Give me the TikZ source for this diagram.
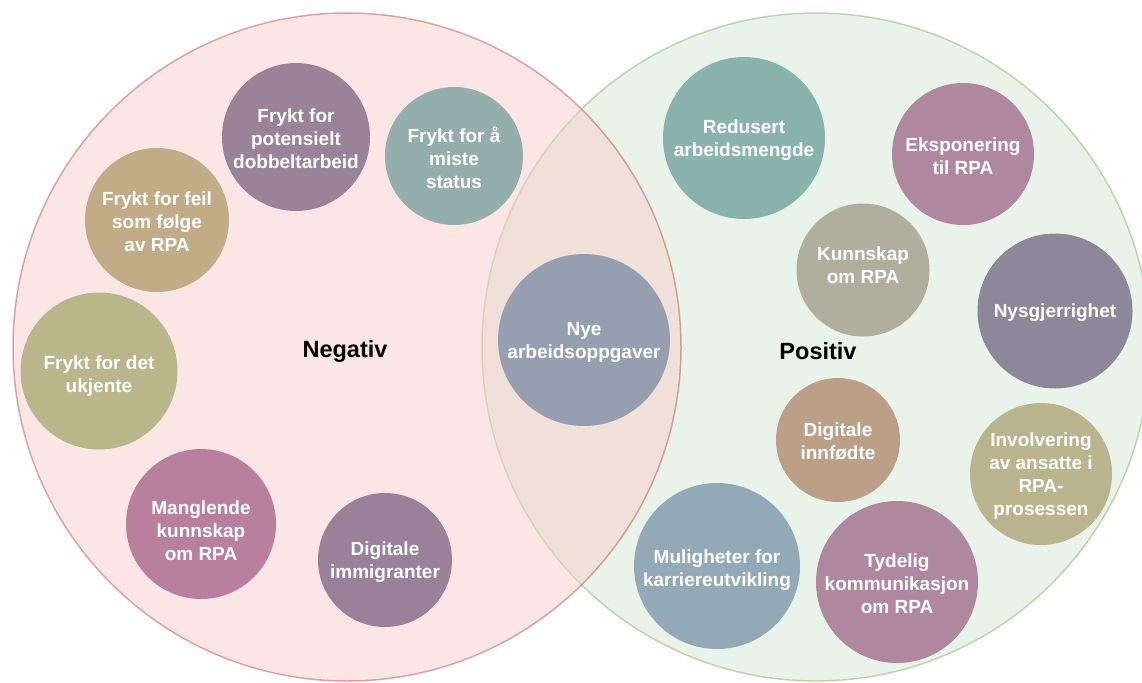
\documentclass[tikz,border=0pt]{standalone}
\usepackage{fontspec}
\setmainfont{Liberation Sans}
\definecolor{negfill}{HTML}{F8CECC}
\definecolor{negline}{HTML}{B85450}
\definecolor{posfill}{HTML}{D5E8D4}
\definecolor{posline}{HTML}{82B366}
\definecolor{cA}{HTML}{9A8299}
\definecolor{cB}{HTML}{94AEAB}
\definecolor{cC}{HTML}{C2AC88}
\definecolor{cD}{HTML}{B9B68C}
\definecolor{cE}{HTML}{B8809E}
\definecolor{cF}{HTML}{988199}
\definecolor{cG}{HTML}{969FAF}
\definecolor{cH}{HTML}{8BB3AE}
\definecolor{cI}{HTML}{AF88A0}
\definecolor{cJ}{HTML}{B0AE9F}
\definecolor{cK}{HTML}{8C8799}
\definecolor{cL}{HTML}{BBA087}
\definecolor{cM}{HTML}{B9B48E}
\definecolor{cN}{HTML}{93A9B7}
\definecolor{cO}{HTML}{AF88A0}
\tikzset{
  bigset/.style={circle, inner sep=0pt, minimum size=668pt, line width=1.5pt, opacity=0.5},
  bub/.style={circle, inner sep=0pt, draw=none},
  txt/.style={text=white, align=center, font=\fontsize{19}{23}\selectfont\bfseries, inner sep=0pt, yshift=-2pt},
  head/.style={text=black, font=\fontsize{23.5}{28}\selectfont\bfseries, inner sep=0pt}
}
\begin{document}
\begin{tikzpicture}[x=1pt, y=-1pt]
\useasboundingbox (0,0) rectangle (1142,682);
\clip (0,0) rectangle (1142,682);
% big sets
\node[bigset, fill=posfill, draw=posline] (pos) at (816,347) {};
\node[bigset, fill=negfill, draw=negline] (neg) at (347,347) {};
\node[head] (negl) at (345,351) {Negativ};
\node[head] (posl) at (818,351) {Positiv};
% negative bubbles
\node[bub, fill=cA, minimum size=148pt] (a) at (296,137) {};
\node[txt] (at) at (a) {Frykt for\\potensielt\\dobbeltarbeid};
\node[bub, fill=cB, minimum size=138pt] (b) at (454,156) {};
\node[txt] (bt) at (b) {Frykt for å\\miste\\status};
\node[bub, fill=cC, minimum size=144pt] (c) at (157,220) {};
\node[txt] (ct) at (c) {Frykt for feil\\som følge\\av RPA};
\node[bub, fill=cD, minimum size=157pt] (d) at (99,371) {};
\node[txt] (dt) at ([yshift=-3pt]d.center) {Frykt for det\\ukjente};
\node[bub, fill=cE, minimum size=150pt] (e) at (201,524) {};
\node[txt] (et) at ([yshift=-5pt]e.center) {Manglende\\kunnskap\\om RPA};
\node[bub, fill=cF, minimum size=134pt] (f) at (385,560) {};
\node[txt] (ft) at (f) {Digitale\\immigranter};
% intersection
\node[bub, fill=cG, minimum size=172pt] (g) at (584,340) {};
\node[txt] (gt) at (g) {Nye\\arbeidsoppgaver};
% positive bubbles
\node[bub, fill=cH, minimum size=162pt] (h) at (744,138) {};
\node[txt] (ht) at (h) {Redusert\\arbeidsmengde};
\node[bub, fill=cI, minimum size=142pt] (i) at (963,154) {};
\node[txt] (it) at (i) {Eksponering\\til RPA};
\node[bub, fill=cJ, minimum size=133pt] (j) at (863,270) {};
\node[txt] (jt) at ([yshift=7pt]j.center) {Kunnskap\\om RPA};
\node[bub, fill=cK, minimum size=155pt] (k) at (1055,311) {};
\node[txt] (kt) at (k) {Nysgjerrighet};
\node[bub, fill=cL, minimum size=124pt] (l) at (838,440) {};
\node[txt] (lt) at ([yshift=1pt]l.center) {Digitale\\innfødte};
\node[bub, fill=cM, minimum size=142pt] (m) at (1041,474) {};
\node[txt] (mt) at (m) {Involvering\\av ansatte i\\RPA-\\prosessen};
\node[bub, fill=cN, minimum size=166pt] (n) at (717,566) {};
\node[txt] (nt) at ([yshift=-2.5pt]n.center) {Muligheter for\\karriereutvikling};
\node[bub, fill=cO, minimum size=162pt] (o) at (897,582) {};
\node[txt] (ot) at (o) {Tydelig\\kommunikasjon\\om RPA};
\end{tikzpicture}
\end{document}
